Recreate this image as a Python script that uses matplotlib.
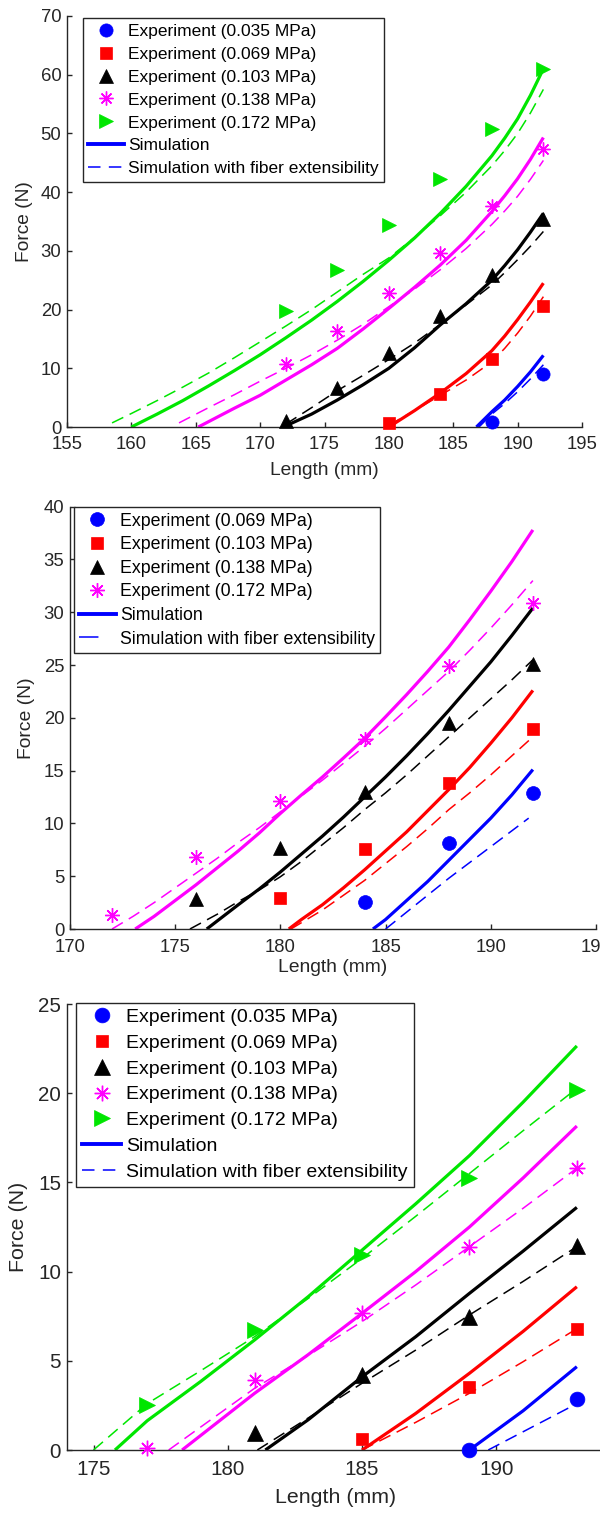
import matplotlib
matplotlib.use("Agg")
import matplotlib.pyplot as plt
from matplotlib.lines import Line2D

plt.rcParams['font.family'] = ['Liberation Sans', 'DejaVu Sans']
plt.rcParams['lines.scale_dashes'] = False

# ---------------- Panel 1 data ----------------
p1_labels = ["Experiment (0.035 MPa)", "Experiment (0.069 MPa)", "Experiment (0.103 MPa)",
             "Experiment (0.138 MPa)", "Experiment (0.172 MPa)"]
p1_exp_x = [[188, 192],
            [180, 184, 188, 192],
            [172, 176, 180, 184, 188, 192],
            [172, 176, 180, 184, 188, 192],
            [172, 176, 180, 184, 188, 192]]
p1_exp_y = [[0.9, 9.0],
            [0.6, 5.6, 11.5, 20.6],
            [1.1, 6.6, 12.6, 18.9, 25.9, 35.5],
            [10.7, 16.4, 22.9, 29.6, 37.7, 47.3],
            [19.8, 26.7, 34.4, 42.2, 50.7, 60.9]]
p1_sim_x = [[186.8, 188, 189, 190, 191, 192],
            [180, 182, 184, 186, 188, 189, 190, 191, 192],
            [171.8, 174, 176, 178, 180, 182, 184, 186, 188, 189, 190, 191, 192],
            [165.2, 168, 170, 172, 174, 176, 178, 180, 182, 184, 186, 188, 189, 190, 191, 192],
            [160, 162, 164, 166, 168, 170, 172, 174, 176, 178, 180, 182, 184, 186, 188, 189, 190, 191, 192]]
p1_sim_y = [[0.0, 2.6, 4.6, 6.9, 9.4, 12.2],
            [0.0, 2.8, 5.8, 9.1, 13.0, 15.5, 18.3, 21.3, 24.5],
            [0.0, 2.2, 4.6, 7.2, 10.0, 13.5, 17.4, 21.0, 25.0, 27.5, 30.2, 33.2, 36.4],
            [0.0, 3.2, 5.4, 8.0, 10.6, 13.4, 16.7, 20.2, 23.8, 27.6, 31.8, 36.7, 39.4, 42.3, 45.6, 49.3],
            [0.0, 2.2, 4.5, 7.0, 9.6, 12.3, 15.2, 18.2, 21.4, 24.8, 28.4, 32.2, 36.4, 41.0, 46.2, 49.2, 52.5, 56.5, 61.0]]
p1_ext_x = [[187.0, 188, 189, 190, 191, 192],
            [180, 182, 184, 186, 188, 189, 190, 191, 192],
            [172, 174, 176, 178, 180, 182, 184, 186, 188, 189, 190, 191, 192],
            [163.7, 166, 168, 170, 172, 174, 176, 178, 180, 182, 184, 186, 188, 189, 190, 191, 192],
            [158.5, 160, 162, 164, 166, 168, 170, 172, 174, 176, 178, 180, 182, 184, 186, 188, 189, 190, 191, 192]]
p1_ext_y = [[0.0, 2.2, 4.0, 6.0, 8.2, 10.6],
            [0.3, 2.8, 5.4, 8.0, 11.1, 13.4, 16.0, 18.9, 22.2],
            [0.5, 3.3, 6.2, 8.8, 11.5, 14.3, 17.5, 20.8, 24.2, 26.3, 28.5, 30.8, 33.3],
            [0.7, 3.3, 5.5, 7.8, 10.0, 12.3, 14.8, 17.5, 20.5, 23.5, 26.8, 30.4, 34.5, 36.8, 39.3, 42.2, 45.4],
            [0.7, 2.3, 4.5, 6.8, 9.2, 11.8, 14.5, 17.2, 20.0, 23.0, 26.0, 28.8, 32.3, 36.0, 40.0, 44.5, 47.1, 50.0, 53.5, 57.5]]

# ---------------- Panel 2 data ----------------
p2_labels = ["Experiment (0.069 MPa)", "Experiment (0.103 MPa)",
             "Experiment (0.138 MPa)", "Experiment (0.172 MPa)"]
p2_exp_x = [[184, 188, 192],
            [180, 184, 188, 192],
            [176, 180, 184, 188, 192],
            [172, 176, 180, 184, 188, 192]]
p2_exp_y = [[2.6, 8.1, 12.9],
            [2.9, 7.6, 13.8, 18.9],
            [2.8, 7.7, 13.0, 19.5, 25.1],
            [1.35, 6.8, 12.1, 18.0, 24.9, 30.9]]
p2_sim_x = [[184.4, 185, 186, 187, 188, 189, 190, 191, 192],
            [180.4, 181, 182, 183, 184, 185, 186, 187, 188, 189, 190, 191, 192],
            [176.5, 178, 179, 180, 181, 182, 183, 184, 185, 186, 187, 188, 189, 190, 191, 192],
            [173.1, 174, 175, 176, 177, 178, 179, 180, 181, 182, 183, 184, 185, 186, 187, 188, 189, 190, 191, 192]]
p2_sim_y = [[0.0, 0.9, 2.7, 4.5, 6.5, 8.5, 10.5, 12.7, 15.1],
            [0.0, 0.9, 2.3, 3.9, 5.6, 7.4, 9.2, 11.2, 13.2, 15.3, 17.6, 20.0, 22.6],
            [0.0, 2.3, 3.8, 5.4, 7.1, 8.8, 10.6, 12.5, 14.4, 16.4, 18.5, 20.7, 23.0, 25.3, 27.8, 30.4],
            [0.0, 1.2, 2.7, 4.2, 5.8, 7.4, 9.1, 10.95, 12.7, 14.4, 16.2, 18.05, 20.1, 22.2, 24.4, 26.7, 29.3, 32.0, 34.8, 37.8]]
p2_ext_x = [[185.0, 186, 187, 188, 189, 190, 191, 191.8],
            [180.5, 182, 183, 184, 185, 186, 187, 188, 189, 190, 191, 192],
            [175.7, 177, 178, 179, 180, 181, 182, 183, 184, 185, 186, 187, 188, 189, 190, 191, 192],
            [172.0, 173, 174, 175, 176, 177, 178, 179, 180, 181, 182, 183, 184, 185, 186, 187, 188, 189, 190, 191, 192]]
p2_ext_y = [[0.0, 1.6, 3.2, 4.8, 6.3, 7.8, 9.3, 10.5],
            [0.0, 1.8, 3.2, 4.6, 6.2, 7.8, 9.5, 11.3, 12.9, 14.6, 16.4, 18.2],
            [0.0, 1.4, 2.6, 3.7, 4.95, 6.4, 8.0, 9.6, 11.3, 12.9, 14.6, 16.4, 18.2, 20.0, 21.8, 23.6, 25.5],
            [0.0, 1.2, 2.5, 3.9, 5.3, 6.7, 8.2, 9.6, 11.1, 12.6, 14.1, 15.7, 17.3, 19.0, 20.8, 22.6, 24.4, 26.4, 28.5, 30.7, 33.0]]

# ---------------- Panel 3 data ----------------
p3_labels = p1_labels
p3_exp_x = [[189, 193],
            [185, 189, 193],
            [181, 185, 189, 193],
            [177, 181, 185, 189, 193],
            [177, 181, 185, 189, 193]]
p3_exp_y = [[0.0, 2.86],
            [0.6, 3.55, 6.8],
            [0.93, 4.2, 7.47, 11.43],
            [0.1, 3.92, 7.66, 11.4, 15.79],
            [2.52, 6.73, 10.93, 15.23, 20.2]]
p3_sim_x = [[189.0, 191, 193],
            [185.0, 187, 189, 191, 193],
            [181.4, 183, 185, 187, 189, 191, 193],
            [178.3, 181, 183, 185, 187, 189, 191, 193],
            [175.8, 177, 179, 181, 183, 185, 187, 189, 191, 193]]
p3_sim_y = [[0.0, 2.2, 4.67],
            [0.0, 2.05, 4.3, 6.65, 9.15],
            [0.0, 1.7, 4.1, 6.35, 8.78, 11.15, 13.6],
            [0.0, 3.18, 5.35, 7.66, 10.0, 12.5, 15.25, 18.16],
            [0.0, 1.64, 3.85, 6.17, 8.6, 11.2, 13.8, 16.5, 19.5, 22.65]]
p3_ext_x = [[189.7, 192.9],
            [185.0, 187, 189, 191, 193],
            [181.1, 183, 185, 187, 189, 191, 193],
            [177.8, 181, 183, 185, 187, 189, 191, 193],
            [175.0, 177, 179, 181, 183, 185, 187, 189, 191, 193]]
p3_ext_y = [[0.0, 2.52],
            [0.0, 1.55, 3.18, 4.95, 6.8],
            [0.0, 1.8, 3.74, 5.6, 7.57, 9.45, 11.4],
            [0.0, 3.46, 5.3, 7.2, 9.25, 11.4, 13.55, 15.8],
            [0.0, 2.6, 4.45, 6.35, 8.5, 10.74, 13.1, 15.5, 17.9, 20.27]]

sim_label = "Simulation"
ext_label = "Simulation with fiber extensibility"
x_label = "Length (mm)"
y_label = "Force (N)"

COL5 = ['#0000ff', '#ff0000', '#000000', '#ff00ff', '#00e600']
MARK5 = ['o', 's', '^', (8, 2, 0), '>']
MS5 = [9.5, 8.0, 10.0, 10.0, 10.0]
TXT = '#262626'

W, H = 600, 1515
fig = plt.figure(figsize=(W / 100, H / 100), dpi=100)


def add_axes(left, right, top, bottom):
    return fig.add_axes([left / W, 1 - bottom / H, (right - left) / W, (bottom - top) / H])


def draw_panel(ax, labels, ex, ey, sx, sy, dx, dy, cols, marks, sizes, mscale,
               xlim, ylim, xticks, yticks, tick_fs, lab_fs, leg_fs,
               leg_anchor, leg_spacing, ext_handle_dashes, ylab_x, xlab_y, xpad):
    for i in range(len(labels)):
        ax.plot(sx[i], sy[i], '-', color=cols[i], lw=2.3, solid_capstyle='butt',
                solid_joinstyle='round', zorder=2)
        ax.plot(dx[i], dy[i], color=cols[i], lw=1.1, dashes=(9, 5), zorder=2)
    handles = []
    for i in range(len(labels)):
        m = marks[i]
        star = isinstance(m, tuple)
        kw = dict(color=cols[i], marker=m, ms=sizes[i] * mscale, ls='none', clip_on=False, zorder=3)
        if star:
            kw.update(mew=1.0, mec=cols[i])
        else:
            kw.update(mec=cols[i], mfc=cols[i], mew=0.5)
        h, = ax.plot(ex[i], ey[i], **kw)
        handles.append(h)
    hs = Line2D([], [], color='#0000ff', lw=2.8)
    hd = Line2D([], [], color='#0000ff', lw=1.1, dashes=ext_handle_dashes)
    leg = ax.legend(handles + [hs, hd], labels + [sim_label, ext_label],
                    loc='upper left', bbox_to_anchor=leg_anchor, borderaxespad=0,
                    fontsize=leg_fs, frameon=True, fancybox=False, framealpha=1,
                    edgecolor='#262626', handlelength=2.05, handletextpad=0.25,
                    labelspacing=leg_spacing, borderpad=0.3, numpoints=1)
    leg.get_frame().set_linewidth(1.0)
    for t in leg.get_texts():
        t.set_color('black')
    ax.set_xlim(*xlim)
    ax.set_ylim(*ylim)
    ax.set_xticks(xticks)
    ax.set_yticks(yticks)
    for s in ['top', 'right']:
        ax.spines[s].set_visible(False)
    for s in ['left', 'bottom']:
        ax.spines[s].set_color(TXT)
        ax.spines[s].set_linewidth(1.0)
    ax.tick_params(direction='in', length=3.5, width=1.0, colors=TXT, labelsize=tick_fs)
    ax.tick_params(axis='x', pad=xpad)
    ax.tick_params(axis='y', pad=4)
    ax.set_xlabel(x_label, fontsize=lab_fs, color=TXT)
    ax.set_ylabel(y_label, fontsize=lab_fs, color=TXT)
    ax.yaxis.set_label_coords(ylab_x, 0.5)
    ax.xaxis.set_label_coords(0.5, xlab_y)


# Panel 1
ax1 = add_axes(67, 582, 16, 427)
draw_panel(ax1, p1_labels, p1_exp_x, p1_exp_y, p1_sim_x, p1_sim_y, p1_ext_x, p1_ext_y,
           COL5, MARK5, MS5, 1.0, (155, 195), (0, 70), list(range(155, 196, 5)), list(range(0, 71, 10)),
           13.3, 13.8, 12.5, (0.0305, 0.9944), 0.45, (9, 6),
           (33 - 67) / 515, (427 - 462) / 411, 6.5)

# Panel 2
ax2 = add_axes(70, 596, 506.7, 929)
COL4 = COL5[:4]
MARK4 = MARK5[:4]
MS4 = MS5[:4]
draw_panel(ax2, p2_labels, p2_exp_x, p2_exp_y, p2_sim_x, p2_sim_y, p2_ext_x, p2_ext_y,
           COL4, MARK4, MS4, 1.05, (170, 195), (0, 40), list(range(170, 196, 5)), list(range(0, 41, 5)),
           13.3, 13.9, 12.8, (0.0072, 0.9986), 0.37, (14, 30),
           (35 - 70) / 526, (929 - 959) / 422.3, 7.0)

# Panel 3
ax3 = add_axes(66.65, 603.7, 1004, 1450)
draw_panel(ax3, p3_labels, p3_exp_x, p3_exp_y, p3_sim_x, p3_sim_y, p3_ext_x, p3_ext_y,
           COL5, MARK5, MS5, 1.12, (174, 194), (0, 25), [175, 180, 185, 190], list(range(0, 26, 5)),
           14.9, 15.4, 14.0, (0.017, 1.003), 0.42, (9, 6),
           (28 - 66.65) / 537, (1450 - 1488) / 446, 7.5)

fig.savefig("out.png", dpi=100)
